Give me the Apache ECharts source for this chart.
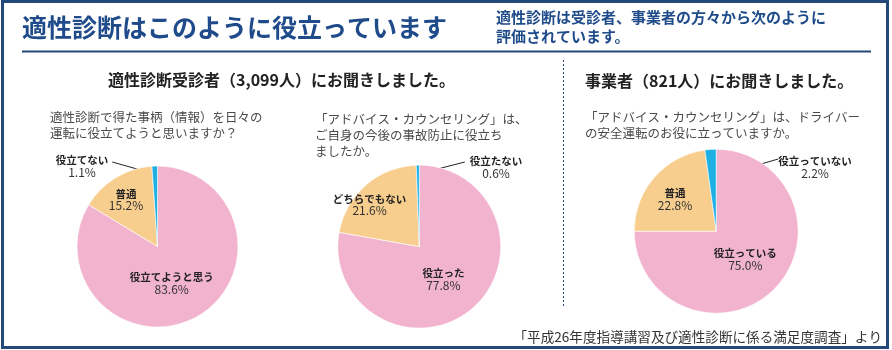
<!DOCTYPE html>
<html><head><meta charset="utf-8">
<script src="https://cdn.jsdelivr.net/npm/echarts@6/dist/echarts.min.js"></script>
<style>html,body{margin:0;padding:0;background:#fff}#c{width:892px;height:350px}</style>
</head><body><div id="c"></div>
<script>
// ---- data ----
const pie1Names = ['役立てようと思う', '普通', '役立てない'];
const pie1Values = [83.6, 15.2, 1.1];
const pie2Names = ['役立った', 'どちらでもない', '役立たない'];
const pie2Values = [77.8, 21.6, 0.6];
const pie3Names = ['役立っている', '普通', '役立っていない'];
const pie3Values = [75.0, 22.8, 2.2];

const mainTitle = '適性診断はこのように役立っています';
const headerNote = '適性診断は受診者、事業者の方々から次のように\n評価されています。';
const sub1 = '適性診断受診者（3,099人）にお聞きしました。';
const sub2 = '事業者（821人）にお聞きしました。';
const q1 = '適性診断で得た事柄（情報）を日々の\n運転に役立てようと思いますか？';
const q2 = '「アドバイス・カウンセリング」は、\nご自身の今後の事故防止に役立ち\nましたか。';
const q3 = '「アドバイス・カウンセリング」は、ドライバー\nの安全運転のお役に立っていますか。';
const source = '「平成26年度指導講習及び適性診断に係る満足度調査」より';

// ---- styles ----
const FONT = '"Noto Sans CJK JP", "Noto Sans", sans-serif';
const NAVY = '#24487a';
const TITLE_BLUE = '#1f4b8b';
const sliceColors = ['#f2b3cf', '#f8ce8e', '#1eb0e3'];

const pieLayouts = [
  { center: [157.5, 246.5], radius: 80.5, shifts: [[-7, -1], [-9, -10]],
    outer: { x: 82, y: 166, side: -1, gap: 4, lineDy: -4, depth: 0.9 } },
  { center: [419.3, 246.6], radius: 81.5, shifts: [[-4, -1], [-21, -9]],
    outer: { x: 496, y: 167, side: 1, gap: 5, lineDy: -5, depth: 0.89 } },
  { center: [716.2, 231.2], radius: 82, shifts: [[-2, -3], [-8, -3]],
    outer: { x: 815, y: 167, side: 1, gap: 0, lineDy: -8, depth: 0.65 } }
];

function buildData(names, values) {
  return names.map(function (n, i) {
    const item = { name: n, value: values[i], itemStyle: { color: sliceColors[i] } };
    if (i === 2) {
      item.label = { position: 'outside' };
      item.labelLine = { show: true, lineStyle: { color: '#222', width: 1 } };
    }
    return item;
  });
}

function makeLayout(cfg) {
  return function (p) {
    if (p.dataIndex === 2) {
      const o = cfg.outer;
      const e = p.labelLinePoints ? p.labelLinePoints[0] : [cfg.center[0], cfg.center[1] - cfg.radius];
      const s = [cfg.center[0] + (e[0] - cfg.center[0]) * o.depth,
                 cfg.center[1] + (e[1] - cfg.center[1]) * o.depth];
      const hw = p.labelRect.width / 2;
      const end = [o.x - o.side * (hw + o.gap), o.y + o.lineDy];
      return { x: o.x, y: o.y, align: 'center', verticalAlign: 'middle',
               labelLinePoints: [s, end, end] };
    }
    const d = cfg.shifts[p.dataIndex];
    return { dx: d[0], dy: d[1] };
  };
}

function pieSeries(names, values, cfg) {
  return {
    type: 'pie',
    center: cfg.center,
    radius: cfg.radius,
    startAngle: 90,
    clockwise: true,
    avoidLabelOverlap: false,
    silent: true,
    itemStyle: { borderColor: '#fff', borderWidth: 0.6 },
    label: {
      show: true,
      position: 'inside',
      formatter: function (p) { return '{n|' + p.name + '}\n{v|' + p.value.toFixed(1) + '%}'; },
      rich: {
        n: { fontFamily: FONT, fontSize: 10.5, fontWeight: 'bold', color: '#222', lineHeight: 12, align: 'center' },
        v: { fontFamily: FONT, fontSize: 12, color: '#333', lineHeight: 12, align: 'center' }
      }
    },
    labelLine: { show: false },
    labelLayout: makeLayout(cfg),
    data: buildData(names, values)
  };
}

function txt(text, left, top, size, weight, color, lh) {
  return { text: text, left: left, top: top, padding: 0,
    textStyle: { fontFamily: FONT, fontSize: size, fontWeight: weight, color: color, lineHeight: lh || size } };
}

const chart = echarts.init(document.getElementById('c'), null, { renderer: 'canvas' });
chart.setOption({
  animation: false,
  backgroundColor: '#fff',
  title: [
    txt(mainTitle, 22, 15, 25, 'bold', TITLE_BLUE),
    txt(headerNote, 496, 8, 15, 'bold', TITLE_BLUE, 19),
    txt(sub1, 108, 72, 16, 'bold', '#222'),
    txt(sub2, 585, 73, 16, 'bold', '#222'),
    txt(q1, 50, 109, 12.5, 'normal', '#4a4a4a', 16),
    txt(q2, 315, 111, 12.5, 'normal', '#4a4a4a', 16),
    txt(q3, 585, 109, 12.5, 'normal', '#4a4a4a', 16),
    { text: source, right: 10, top: 330, padding: 0,
      textStyle: { fontFamily: FONT, fontSize: 13.6, fontWeight: 'normal', color: '#333' } }
  ],
  graphic: [
    { type: 'rect', shape: { x: 2.5, y: 1.5, width: 885, height: 346 },
      style: { fill: null, stroke: NAVY, lineWidth: 3 }, silent: true },
    { type: 'line', shape: { x1: 22, y1: 51.5, x2: 871, y2: 51.5 },
      style: { stroke: NAVY, lineWidth: 2 }, silent: true },
    { type: 'line', shape: { x1: 563.5, y1: 60, x2: 563.5, y2: 306 },
      style: { stroke: NAVY, lineWidth: 1, lineDash: [2, 2] }, silent: true }
  ],
  series: [
    pieSeries(pie1Names, pie1Values, pieLayouts[0]),
    pieSeries(pie2Names, pie2Values, pieLayouts[1]),
    pieSeries(pie3Names, pie3Values, pieLayouts[2])
  ]
});
</script>
</body></html>
